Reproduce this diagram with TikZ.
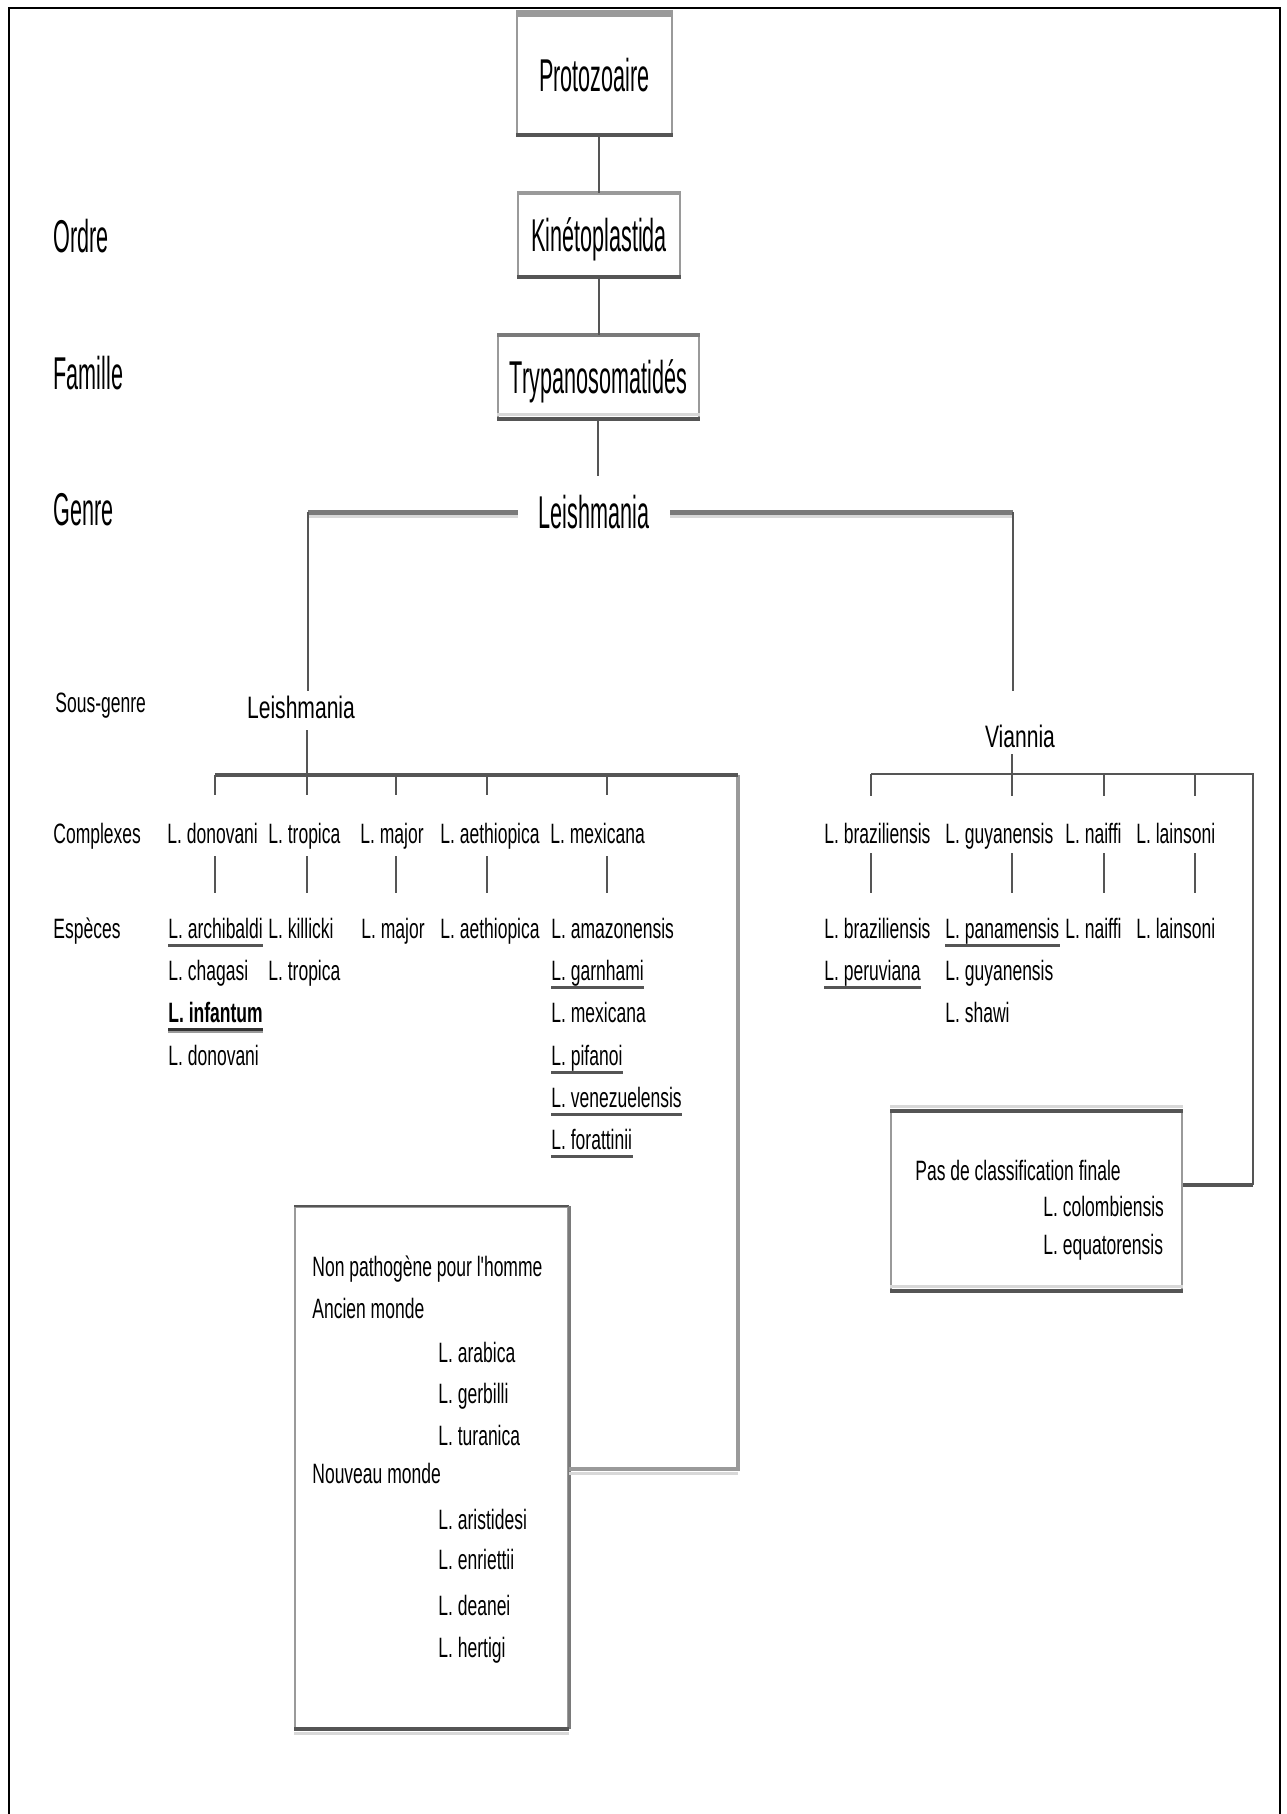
\documentclass[tikz,border=0pt]{standalone}
\usepackage{fontspec}
\setmainfont{Liberation Sans}
\newfontfamily\bigfont{Liberation Sans}[FakeStretch=0.47]
\newfontfamily\smallfont{Liberation Sans}[FakeStretch=0.625]
\newfontfamily\subfont{Liberation Sans}[FakeStretch=0.68]
\definecolor{gdark}{HTML}{555555}
\definecolor{gbar}{HTML}{7A7A7A}
\definecolor{gmid}{HTML}{9A9A9A}
\definecolor{glight}{HTML}{D8D8D8}
\begin{document}
\begin{tikzpicture}[x=0.5pt,y=-0.5pt,
  big/.style={font=\bigfont\fontsize{23}{27}\selectfont, inner sep=0pt, text height=16.5pt, text depth=0pt},
  sm/.style={font=\smallfont\fontsize{14}{17}\selectfont, inner sep=0pt, text height=10pt, text depth=0pt, anchor=base west},
  sub/.style={font=\subfont\fontsize{15.5}{18}\selectfont, inner sep=0pt, text height=11pt, text depth=0pt},
  box/.style={draw=gmid, line width=1pt, fill=white},
  conn/.style={draw=gdark, line width=0.8pt},
  bar/.style={draw=gbar, line width=2.5pt},
  barlight/.style={draw=glight, line width=1.5pt},
  darkbar/.style={draw=gdark, line width=1.6pt},
  ul/.style={draw=gdark, line width=1.5pt},
  ullight/.style={draw=gmid, line width=1.2pt},
  topband/.style={draw=gmid, line width=3.5pt},
  botband/.style={draw=gdark, line width=1.6pt},
  frameline/.style={draw=black, line width=1.2pt}]
\useasboundingbox (0,0) rectangle (1286,1814);
% outer frame (open at the bottom)
\coordinate (fBL) at (9,1814);
\coordinate (fTL) at (9,8);
\coordinate (fTR) at (1280,8);
\coordinate (fBR) at (1280,1814);
\draw[frameline] (fBL) -- (fTL) -- (fTR) -- (fBR);

% rank labels
\node[big, anchor=base west] (lOrdre) at (53,252) {Ordre};
\node[big, anchor=base west] (lFam) at (53,389) {Famille};
\node[big, anchor=base west] (lGenre) at (53,525) {Genre};
\node[sm] (lSous) at (55,712) {Sous-genre};
\node[sm] (lComp) at (53,843) {Complexes};
\node[sm] (lEsp) at (53,938) {Espèces};

% top boxes
\node[box, big, minimum width=77.5pt, minimum height=59.5pt] (proto) at (594.5,74.5) {Protozoaire};
\node[box, big, minimum width=81pt, minimum height=41pt] (kin) at (599,235) {Kinétoplastida};
\node[box, big, minimum width=100.5pt, minimum height=41pt] (tryp) at (598.5,377) {Trypanosomatidés};
\draw[topband] (proto.north west) -- (proto.north east);
\draw[botband] (proto.south west) -- (proto.south east);
\draw[topband, line width=2pt] (kin.north west) -- (kin.north east);
\draw[botband] (kin.south west) -- (kin.south east);
\draw[topband, draw=gbar, line width=2pt] (tryp.north west) -- (tryp.north east);
\draw[barlight] ([yshift=2.2pt]tryp.south west) -- ([yshift=2.2pt]tryp.south east);
\draw[botband] (tryp.south west) -- (tryp.south east);

\draw[conn] (kin.north |- proto.south) -- (kin.north);
\draw[conn] (kin.south) -- (kin.south |- tryp.north);
\coordinate (gtop) at (598,476);
\draw[conn] (tryp.south -| gtop) -- (gtop);

% genus
\node[big, minimum width=76pt] (genus) at (594,512) {Leishmania};
\coordinate (cornerL) at (308,512);
\coordinate (cornerR) at (1013,512);
\draw[barlight] ([yshift=-2.2pt]genus.west) -- ([yshift=-2.2pt]genus.west -| cornerL);
\draw[barlight] ([yshift=-2.2pt]genus.east) -- ([yshift=-2.2pt]genus.east -| cornerR);
\draw[bar] (genus.west) -- (cornerL);
\draw[bar] (genus.east) -- (cornerR);

% subgenera
\node[sub, anchor=base] (sgL) at (301,718) {Leishmania};
\node[sub, anchor=base] (sgV) at (1020,747) {Viannia};
\draw[conn, shorten >=2.5pt] (cornerL) -- (cornerL |- sgL.north);
\draw[conn, shorten >=17pt] (cornerR) -- (cornerR |- sgV.north);

% ---------- subgenus Leishmania ----------
\coordinate (tD) at (215,775);
\coordinate (tT) at (307,775);
\coordinate (tMj) at (396,775);
\coordinate (tAe) at (487,775);
\coordinate (tMx) at (607,775);
\coordinate (bL2) at (738,775);
\coordinate (bL3) at (738,1469);

\node[sm] (cD) at (167,843) {L. donovani};
\node[sm] (cT) at (268,843) {L. tropica};
\node[sm] (cMj) at (360,843) {L. major};
\node[sm] (cAe) at (440,843) {L. aethiopica};
\node[sm] (cMx) at (550,843) {L. mexicana};

\node[sm] (sD1) at (168,938) {L. archibaldi};
\node[sm] (sD2) at (168,980) {L. chagasi};
\node[sm, font=\smallfont\bfseries\fontsize{14}{17}\selectfont] (sD3) at (168,1022) {L. infantum};
\node[sm] (sD4) at (168,1065) {L. donovani};
\node[sm] (sT1) at (268,938) {L. killicki};
\node[sm] (sT2) at (268,980) {L. tropica};
\node[sm] (sMj) at (361,938) {L. major};
\node[sm] (sAe) at (440,938) {L. aethiopica};
\node[sm] (sMx1) at (551,938) {L. amazonensis};
\node[sm] (sMx2) at (551,980) {L. garnhami};
\node[sm] (sMx3) at (551,1022) {L. mexicana};
\node[sm] (sMx4) at (551,1065) {L. pifanoi};
\node[sm] (sMx5) at (551,1107) {L. venezuelensis};
\node[sm] (sMx6) at (551,1149) {L. forattinii};

% non pathogenic box
\node[box, minimum width=136.5pt, minimum height=260.5pt, inner sep=0pt] (boxNP) at (431.5,1467.5) {};
\draw[draw=gdark, line width=1.3pt] (boxNP.north west) -- (boxNP.north east);
\draw[draw=gbar, line width=1.5pt] (boxNP.north east) -- (boxNP.south east);
\draw[barlight] ([yshift=-2.2pt]boxNP.south west) -- ([yshift=-2.2pt]boxNP.south east);
\draw[darkbar, line width=2pt] (boxNP.south west) -- (boxNP.south east);
\node[sm] (np1) at (312,1276) {Non pathogène pour l'homme};
\node[sm] (np2) at (312,1318) {Ancien monde};
\node[sm] (np3) at (438,1362) {L. arabica};
\node[sm] (np4) at (438,1403) {L. gerbilli};
\node[sm] (np5) at (438,1445) {L. turanica};
\node[sm] (np6) at (312,1483) {Nouveau monde};
\node[sm] (np7) at (438,1529) {L. aristidesi};
\node[sm] (np8) at (438,1569) {L. enriettii};
\node[sm] (np9) at (438,1615) {L. deanei};
\node[sm] (np10) at (438,1657) {L. hertigi};

% connectors subgenus Leishmania
\draw[conn, shorten <=6pt] (tT |- sgL.south) -- (tT);
\draw[barlight] ([yshift=-2pt]bL3) -- ([yshift=-2pt]bL3 -| boxNP.east);
\draw[draw=gmid, line width=1.6pt] (bL2) -- (bL3) -- (bL3 -| boxNP.east);
\draw[darkbar] (tD) -- (bL2);
\foreach \t/\c/\s in {tD/cD/sD1, tT/cT/sT1, tMj/cMj/sMj, tAe/cAe/sAe, tMx/cMx/sMx1}{
  \draw[conn, shorten >=14pt] (\t) -- (\t |- \c.north);
  \draw[conn, shorten <=6.5pt, shorten >=12.5pt] (\t |- \c.south) -- (\t |- \s.north);
}
% underlines
\foreach \n in {sD1, sMx2, sMx4, sMx5, sMx6}{
  \draw[ul] ([yshift=-3.5pt]\n.base west) -- ([yshift=-3.5pt]\n.base east);
}
\draw[ullight] ([yshift=-5pt]sD3.base west) -- ([yshift=-5pt]sD3.base east);
\draw[ul, draw=black!80] ([yshift=-3.5pt]sD3.base west) -- ([yshift=-3.5pt]sD3.base east);

% ---------- subgenus Viannia ----------
\coordinate (tBr) at (871,774);
\coordinate (tGu) at (1012,774);
\coordinate (tNa) at (1104,774);
\coordinate (tLa) at (1195,774);
\coordinate (bV2) at (1253,774);
\coordinate (bV3) at (1253,1185);

\node[sm] (vBr) at (824,843) {L. braziliensis};
\node[sm] (vGu) at (945,843) {L. guyanensis};
\node[sm] (vNa) at (1065,843) {L. naiffi};
\node[sm] (vLa) at (1136,843) {L. lainsoni};

\node[sm] (wBr1) at (824,938) {L. braziliensis};
\node[sm] (wBr2) at (824,980) {L. peruviana};
\node[sm] (wGu1) at (945,938) {L. panamensis};
\node[sm] (wGu2) at (945,980) {L. guyanensis};
\node[sm] (wGu3) at (945,1022) {L. shawi};
\node[sm] (wNa) at (1065,938) {L. naiffi};
\node[sm] (wLa) at (1136,938) {L. lainsoni};

\node[box, minimum width=145.5pt, minimum height=89pt, inner sep=0pt] (boxPC) at (1036.5,1201) {};
\draw[barlight] ([yshift=2.2pt]boxPC.north west) -- ([yshift=2.2pt]boxPC.north east);
\draw[darkbar] (boxPC.north west) -- (boxPC.north east);
\draw[barlight] ([yshift=2.2pt]boxPC.south west) -- ([yshift=2.2pt]boxPC.south east);
\draw[darkbar] (boxPC.south west) -- (boxPC.south east);
\node[sm] (pc1) at (915,1180) {Pas de classification finale};
\node[sm] (pc2) at (1043,1216) {L. colombiensis};
\node[sm] (pc3) at (1043,1254) {L. equatorensis};

\draw[conn, shorten <=3.5pt] (tGu |- sgV.south) -- (tGu);
\draw[draw=gdark, line width=1.2pt] (tBr) -- (bV2) -- (bV3);
\draw[darkbar] (bV3) -- (bV3 -| boxPC.east);
\foreach \t/\c/\s in {tBr/vBr/wBr1, tGu/vGu/wGu1, tNa/vNa/wNa, tLa/vLa/wLa}{
  \draw[conn, shorten >=13.5pt] (\t) -- (\t |- \c.north);
  \draw[conn, shorten <=5pt, shorten >=12.5pt] (\t |- \c.south) -- (\t |- \s.north);
}
\foreach \n in {wBr2, wGu1}{
  \draw[ul] ([yshift=-3.5pt]\n.base west) -- ([yshift=-3.5pt]\n.base east);
}
\end{tikzpicture}
\end{document}
